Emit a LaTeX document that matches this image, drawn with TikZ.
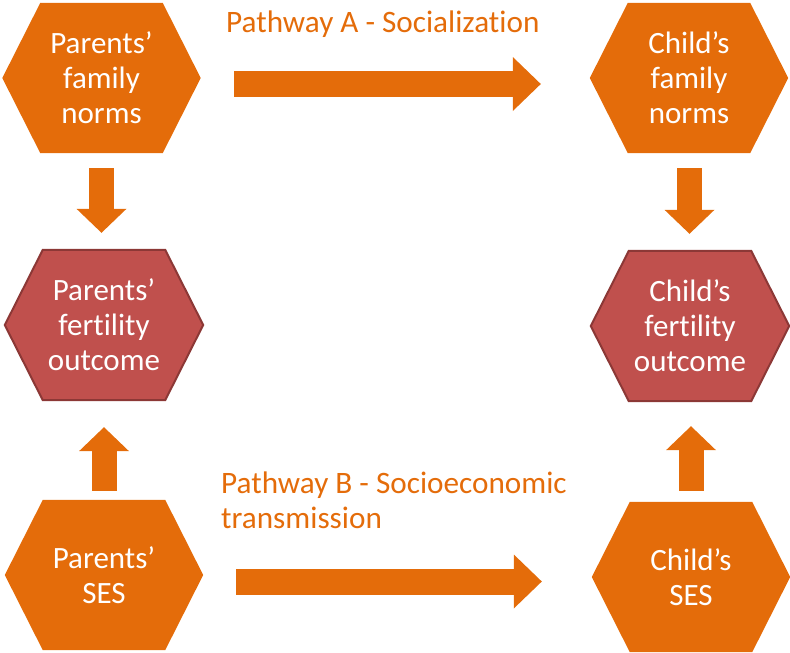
\documentclass[tikz,border=0pt]{standalone}
\usepackage{fontspec}
\setmainfont{Carlito}[Ligatures=NoCommon]
\usetikzlibrary{calc,arrows.meta,backgrounds}
\definecolor{pathorange}{HTML}{E46C0A}
\definecolor{outred}{HTML}{C0504D}
\definecolor{outredline}{HTML}{8C3836}
\tikzset{
  hexlabel/.style={minimum width=198pt, minimum height=150pt, inner sep=0pt,
    align=center, text=white, font=\fontsize{31}{35}\selectfont},
  pathlabel/.style={text=pathorange, inner sep=0pt, align=left,
    font=\fontsize{31.2}{35}\selectfont},
  hblockarrow/.style={draw=pathorange, line width=26pt,
    -{Triangle[width=54pt,length=28pt,line width=0pt,fill=pathorange]}},
  vblockarrow/.style={draw=pathorange, line width=25pt,
    -{Triangle[width=50pt,length=24pt,line width=0pt,fill=pathorange]}},
  normhex/.style={fill=pathorange},
  outhex/.style={fill=outred, draw=outredline, line width=2pt, line join=miter}
}
\begin{document}
\begin{tikzpicture}[x=1pt,y=-1pt]
  \useasboundingbox (0,0) rectangle (790,653);

  % text of the six hexagons
  \node[hexlabel] (pfn)  at (101.5,78) {Parents’\\family\\norms};
  \node[hexlabel] (pfo)  at (104,325)  {Parents’\\fertility\\outcome};
  \node[hexlabel] (pses) at (104,575)  {Parents’\\SES};
  \node[hexlabel] (cfn)  at (689,78)   {Child’s\\family\\norms};
  \node[hexlabel] (cfo)  at (690,326)  {Child’s\\fertility\\outcome};
  \node[hexlabel] (cses) at (691,577)  {Child’s\\SES};

  % hexagon outlines behind the text
  \begin{scope}[on background layer]
    \foreach \n in {pfn,pses,cfn,cses}
      \path[normhex] (\n.west) -- ($(\n.north west)+(38,0)$) -- ($(\n.north east)+(-38,0)$)
        -- (\n.east) -- ($(\n.south east)+(-38,0)$) -- ($(\n.south west)+(38,0)$) -- cycle;
    \foreach \n in {pfo,cfo}
      \path[outhex] (\n.west) -- ($(\n.north west)+(38,0)$) -- ($(\n.north east)+(-38,0)$)
        -- (\n.east) -- ($(\n.south east)+(-38,0)$) -- ($(\n.south west)+(38,0)$) -- cycle;
  \end{scope}

  % pathway labels
  \node[pathlabel, anchor=base west] (pa) at (226,32) {Pathway A - Socialization};
  \node[pathlabel, anchor=base west] (pb) at (221,528) {Pathway B - Socioeconomic\\transmission};

  % horizontal pathways
  \draw[hblockarrow] ($(pfn.east)+(33.5,6)$) -- ($(pfn.east -| cfn.west)+(-49,6)$);
  \draw[hblockarrow] ($(pses.east)+(33,6.5)$) -- ($(pses.east -| cses.west)+(-50,6.5)$);

  % norms lead to fertility outcome
  \draw[vblockarrow] ($(pfn.south)+(0,15)$) -- ($(pfn.south |- pfo.north)+(0,-17)$);
  \draw[vblockarrow] ($(cfn.south)+(0.5,15)$) -- ($(cfn.south |- cfo.north)+(0.5,-17)$);

  % SES leads to fertility outcome
  \draw[vblockarrow] ($(pses.north)+(0,-9)$) -- ($(pses.north |- pfo.south)+(0,27)$);
  \draw[vblockarrow] ($(cses.north)+(0,-11)$) -- ($(cses.north |- cfo.south)+(0,25)$);
\end{tikzpicture}
\end{document}
